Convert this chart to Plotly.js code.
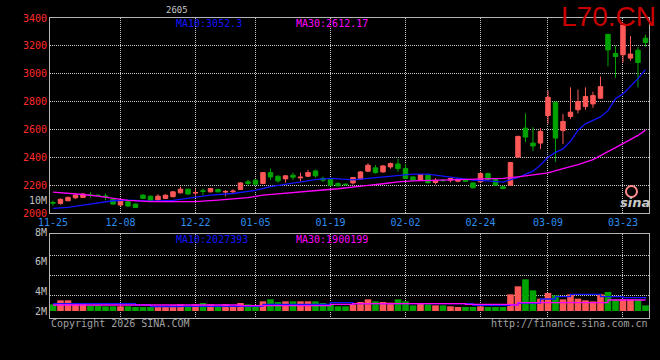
<!DOCTYPE html>
<html><head><meta charset="utf-8">
<script src="https://cdn.plot.ly/plotly-3.0.1.min.js"></script>
<style>html,body{margin:0;padding:0;background:#000;}#chart{width:660px;height:360px;}</style>
</head><body><div id="chart"></div>
<script>
// ---- data ----
const tickIdx  = [0, 9, 19, 27, 37, 47, 57, 66, 76];
const tickText = ['11-25','12-08','12-22','01-05','01-19','02-02','02-24','03-09','03-23'];

const openP = [2076,2069,2088,2109,2112,2130,2128,2122,2098,2057,
  2081,2064,2128,2121,2093,2105,2117,2145,2171,2143,
  2160,2152,2169,2150,2152,2169,2224,2236,2212,2290,
  2264,2245,2271,2252,2264,2302,2248,2241,2212,2207,
  2216,2243,2300,2324,2295,2331,2352,2319,2259,2236,
  2271,2219,2236,2236,2228,2240,2216,2224,2283,2241,
  2188,2200,2402,2609,2502,2502,2700,2795,2593,2693,
  2741,2764,2783,2824,3283,3145,3136,3112,3169,3255];
const highP = [2088,2105,2118,2135,2142,2150,2134,2140,2102,2095,
  2084,2068,2136,2124,2135,2133,2158,2188,2175,2172,
  2178,2180,2175,2165,2170,2222,2240,2240,2293,2319,
  2270,2272,2290,2290,2310,2312,2262,2248,2220,2212,
  2258,2300,2357,2345,2345,2362,2390,2352,2265,2280,
  2275,2250,2240,2250,2248,2245,2220,2295,2290,2245,
  2195,2367,2555,2716,2616,2609,2879,2800,2710,2902,
  2886,2902,2871,2979,3283,3200,3360,3271,3193,3279];
const lowP = [2052,2060,2085,2102,2108,2112,2122,2092,2058,2052,
  2044,2036,2100,2085,2090,2100,2112,2140,2132,2124,
  2128,2147,2148,2120,2135,2165,2198,2198,2207,2236,
  2217,2217,2238,2228,2258,2255,2222,2195,2190,2198,
  2205,2240,2293,2282,2290,2318,2295,2245,2230,2233,
  2212,2205,2228,2220,2220,2225,2176,2220,2235,2195,
  2170,2195,2395,2509,2445,2459,2641,2366,2495,2676,
  2716,2741,2755,2821,3052,2969,3081,3093,2902,3193];
const closeP = [2071,2098,2112,2128,2136,2126,2125,2117,2064,2093,
  2050,2040,2105,2088,2121,2128,2152,2171,2136,2147,
  2155,2176,2152,2155,2157,2216,2212,2207,2290,2259,
  2231,2267,2257,2257,2290,2267,2236,2200,2195,2203,
  2255,2295,2343,2290,2338,2355,2319,2248,2236,2276,
  2217,2236,2232,2248,2243,2228,2181,2283,2241,2200,
  2176,2362,2550,2545,2481,2586,2831,2538,2657,2724,
  2800,2836,2843,2907,3171,3124,3350,3141,3081,3224];
// volume, millions (as drawn)
const volume = [1.11,1.78,1.78,1.11,1.11,0.94,0.94,0.78,0.78,0.78,
  0.78,0.67,0.67,0.67,0.67,0.78,0.94,1.11,0.67,1.11,
  1.33,1.11,0.78,1.11,0.78,1.33,1.11,0.78,1.61,1.94,
  1.50,1.61,1.61,1.61,1.61,1.61,1.33,1.11,0.78,0.78,
  1.11,1.50,1.94,1.61,1.50,1.39,1.94,1.61,0.94,1.22,
  1.11,0.94,0.94,0.78,0.67,0.67,0.67,0.78,0.67,0.67,
  0.67,2.78,4.11,5.28,3.44,2.06,3.00,2.61,1.94,2.78,
  2.06,1.78,1.61,2.78,3.17,1.94,1.94,1.94,1.94,0.94];

const ma10Idx = [0,2,4,6,8,10,13,16,19,21,24,27,29,31,33,35,37,38,40,42,44,46,48,50,52,54,56,58,60,62,64,65,66,67,68,69,70,71,72,73,74,75,76,77,78,79];
const ma10Val = [2033,2040,2057,2074,2088,2093,2085,2090,2110,2128,2140,2162,2190,2205,2224,2240,2248,2243,2238,2248,2259,2271,2279,2279,2266,2250,2236,2230,2222,2255,2300,2345,2400,2435,2460,2515,2595,2640,2667,2690,2735,2820,2855,2910,2965,3030];
const ma30Idx = [0,2,4,6,8,10,13,16,19,22,24,26,28,31,33,36,38,40,42,44,46,48,50,52,54,56,58,60,62,64,66,68,70,72,74,76,78,79];
const ma30Val = [2150,2143,2133,2121,2105,2090,2082,2080,2081,2093,2100,2110,2128,2140,2152,2165,2174,2188,2198,2210,2224,2230,2233,2237,2240,2243,2245,2248,2260,2272,2288,2319,2348,2383,2438,2498,2557,2595];

const volMa10Idx = [0,8,11,13,17,24,28,37,40,55,56,60,61,62,65,67,69,72,73,76,79];
const volMa10Val = [1.22,1.22,1.0,0.72,0.78,0.78,1.11,1.39,1.22,1.22,0.94,0.94,1.0,1.33,2.0,2.39,2.78,2.78,2.39,2.22,2.06];
const volMa30Idx = [0,24,25,37,40,55,61,62,73,74,79];
const volMa30Val = [1.0,1.0,0.89,1.11,1.22,1.11,1.0,1.39,1.39,1.83,1.83];

const volTickText = ['10M','8M','6M','4M','2M'];
const symbol = 'L70.CN';
const headerCode = '2605';
const priceMaText = ['MA10:3052.3', 'MA30:2612.17'];
const volMaText = ['MA10:2027393', 'MA30:1900199'];
const footLeft = 'Copyright 2026 SINA.COM';
const footRight = 'http://finance.sina.com.cn';

// ---- styling ----
const UP = '#ff5858', DOWN = '#00a400';
const BLUE = '#1414ff', MAG = '#ff00ff';
const GRID = '#c8c8c8', BORDER = '#b4b4b4';
const MONO = 'DejaVu Sans Mono, monospace';

const idx = openP.map((_, i) => i);
const volColors = closeP.map((c, i) => c >= openP[i] ? UP : DOWN);

// pixel helpers for paper-positioned text
const L = 50, R = 649, T = 18, B = 318;
const px = x => (x - L) / (R - L);
const py = y => (B - y) / (B - T);
const xr = [-0.4, 79.47];

const traces = [
  { type:'candlestick', x: idx, open: openP, high: highP, low: lowP, close: closeP,
    xaxis:'x', yaxis:'y', hoverinfo:'skip', whiskerwidth:0,
    increasing:{ line:{color:UP, width:1}, fillcolor:UP },
    decreasing:{ line:{color:DOWN, width:1}, fillcolor:DOWN } },
  { type:'scatter', mode:'lines', x: ma10Idx, y: ma10Val, xaxis:'x', yaxis:'y',
    line:{color:BLUE, width:1.3}, hoverinfo:'skip' },
  { type:'scatter', mode:'lines', x: ma30Idx, y: ma30Val, xaxis:'x', yaxis:'y',
    line:{color:MAG, width:1.3}, hoverinfo:'skip' },
  { type:'scatter', mode:'lines', x: [], y: [], xaxis:'x3', yaxis:'y', hoverinfo:'skip' },
  { type:'bar', x: idx, y: volume, xaxis:'x2', yaxis:'y2', width:0.88,
    marker:{color: volColors, line:{width:0}}, hoverinfo:'skip' },
  { type:'scatter', mode:'lines', x: volMa10Idx, y: volMa10Val, xaxis:'x2', yaxis:'y2',
    line:{color:BLUE, width:1.3, shape:'hv'}, hoverinfo:'skip' },
  { type:'scatter', mode:'lines', x: volMa30Idx, y: volMa30Val, xaxis:'x2', yaxis:'y2',
    line:{color:MAG, width:1.3, shape:'hv'}, hoverinfo:'skip' }
];

const gridDash = '1px,1px';
const volLabelY = [200, 232, 261, 291, 311];

const annotations = [
  { text: symbol, xref:'paper', yref:'paper', x: px(658), y: py(17), xanchor:'right', yanchor:'middle',
    showarrow:false, font:{family:'Liberation Sans, Arial, sans-serif', size:28, color:'#c80000'} },
  { text: headerCode, xref:'paper', yref:'paper', x: px(177), y: py(10), xanchor:'center', yanchor:'middle',
    showarrow:false, font:{family:MONO, size:9, color:'#c8c8c8'} },
  { text: priceMaText[0], xref:'paper', yref:'paper', x: px(174), y: py(23.5), xanchor:'left', yanchor:'middle',
    showarrow:false, font:{family:MONO, size:10, color:BLUE} },
  { text: priceMaText[1], xref:'paper', yref:'paper', x: px(294), y: py(23.5), xanchor:'left', yanchor:'middle',
    showarrow:false, font:{family:MONO, size:10, color:MAG} },
  { text: volMaText[0], xref:'paper', yref:'paper', x: px(174), y: py(239), xanchor:'left', yanchor:'middle',
    showarrow:false, font:{family:MONO, size:10, color:BLUE} },
  { text: volMaText[1], xref:'paper', yref:'paper', x: px(294), y: py(239), xanchor:'left', yanchor:'middle',
    showarrow:false, font:{family:MONO, size:10, color:MAG} },
  { text: footLeft, xref:'paper', yref:'paper', x: px(49), y: py(323.5), xanchor:'left', yanchor:'middle',
    showarrow:false, font:{family:MONO, size:10, color:'#a0a0a0'} },
  { text: footRight, xref:'paper', yref:'paper', x: px(650), y: py(323.5), xanchor:'right', yanchor:'middle',
    showarrow:false, font:{family:MONO, size:10, color:'#a0a0a0'} },
  { text: 'sina', xref:'paper', yref:'paper', x: px(635), y: py(202), xanchor:'center', yanchor:'middle',
    showarrow:false, font:{family:'DejaVu Sans, sans-serif', size:13, color:'#c8c8c8', style:'italic', weight:'bold'} }
].concat(volTickText.map((t, i) => ({
  text: t, xref:'paper', yref:'paper', x: px(47.5), y: py(volLabelY[i]), xanchor:'right', yanchor:'middle',
  showarrow:false, borderpad:0, font:{family:MONO, size:10, color:'#c0c0c0'}
})));

const layout = {
  width:660, height:360,
  margin:{l:50, r:11, t:18, b:42, pad:0},
  paper_bgcolor:'#000', plot_bgcolor:'#000',
  showlegend:false, dragmode:false,
  font:{family:MONO, size:10, color:'#c0c0c0'},
  boxgap:0.15,
  xaxis:{ domain:[0,1], anchor:'y', range:xr, tickmode:'array', tickvals:tickIdx, ticktext:tickText,
    showgrid:false, zeroline:false, showline:true, mirror:true, linecolor:BORDER, linewidth:1,
    ticks:'', tickfont:{family:MONO, size:10, color:'#2d8ef0'}, rangeslider:{visible:false}, fixedrange:true },
  xaxis3:{ overlaying:'x', anchor:'y', range:xr, tickmode:'array', tickvals:tickIdx.slice(1),
    showticklabels:false, showgrid:true, gridcolor:GRID, griddash:gridDash, gridwidth:1,
    zeroline:false, showline:false, ticks:'', fixedrange:true },
  yaxis:{ domain:[py(213), 1], anchor:'x', range:[2000, 3400], tickmode:'linear', tick0:2000, dtick:200,
    showgrid:true, gridcolor:GRID, griddash:gridDash, gridwidth:1, zeroline:false,
    showline:true, mirror:true, linecolor:BORDER, linewidth:1, ticks:'',
    tickfont:{family:MONO, size:10, color:'#ff2a2a'}, fixedrange:true },
  xaxis2:{ domain:[0,1], anchor:'y2', range:xr, tickmode:'array', tickvals:tickIdx.slice(1),
    showticklabels:false, showgrid:true, gridcolor:GRID, griddash:gridDash, gridwidth:1,
    zeroline:false, showline:true, mirror:true, linecolor:BORDER, linewidth:1, ticks:'', fixedrange:true },
  yaxis2:{ domain:[0, py(234)], anchor:'x2', range:[-7/6, 77/6], tickmode:'array',
    tickvals:[(311-295)/6, (311-275)/6, (311-255)/6], showticklabels:false,
    showgrid:true, gridcolor:GRID, griddash:gridDash, gridwidth:1, zeroline:false,
    showline:true, mirror:true, linecolor:BORDER, linewidth:1, ticks:'', fixedrange:true },
  bargap:0.12,
  annotations: annotations,
  shapes:[
    { type:'circle', xref:'paper', yref:'paper', x0:px(626), x1:px(637), y0:py(197), y1:py(186),
      line:{color:'#ff8a8a', width:2}, fillcolor:'rgba(0,0,0,0)' }
  ]
};

Plotly.newPlot('chart', traces, layout, {staticPlot:true, displayModeBar:false});
</script></body></html>
